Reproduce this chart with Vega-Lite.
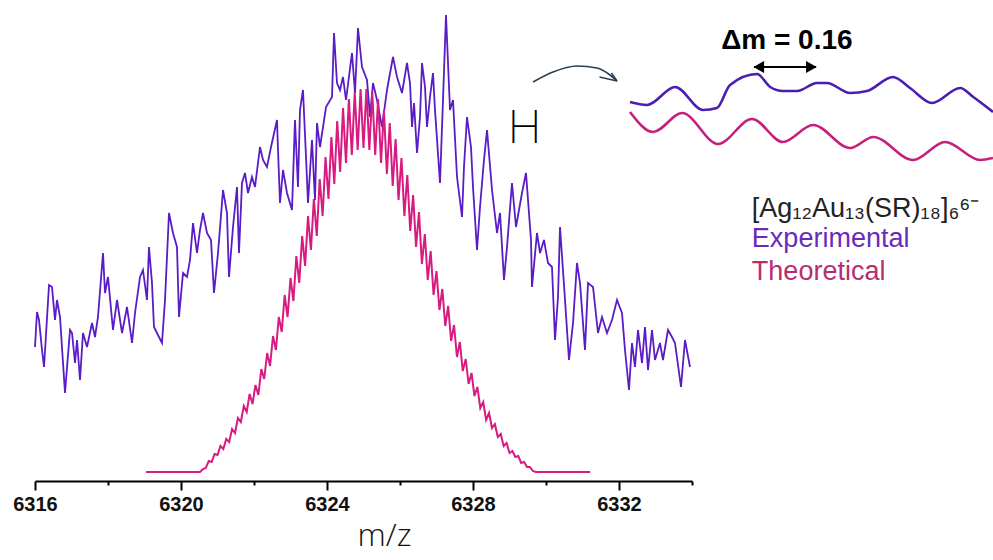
{
  "$schema": "https://vega.github.io/schema/vega-lite/v6.json",
  "width": 657,
  "height": 466,
  "autosize": "none",
  "padding": {"left": 35, "top": 15, "right": 301, "bottom": 79},
  "background": "white",
  "config": {"view": {"stroke": null}, "font": "Liberation Sans"},
  "datasets": {
    "exp": [
      {"mz":6316.000,"i":134},{"mz":6316.055,"i":169},{"mz":6316.110,"i":161},{"mz":6316.192,"i":131},{"mz":6316.247,"i":114},
      {"mz":6316.384,"i":196},{"mz":6316.466,"i":194},{"mz":6316.548,"i":161},{"mz":6316.603,"i":181},{"mz":6316.685,"i":164},
      {"mz":6316.822,"i":88},{"mz":6316.959,"i":151},{"mz":6317.014,"i":148},{"mz":6317.096,"i":118},{"mz":6317.151,"i":141},
      {"mz":6317.233,"i":101},{"mz":6317.315,"i":148},{"mz":6317.425,"i":134},{"mz":6317.562,"i":158},{"mz":6317.644,"i":144},
      {"mz":6317.726,"i":164},{"mz":6317.863,"i":228},{"mz":6317.918,"i":188},{"mz":6318.000,"i":204},{"mz":6318.137,"i":151},
      {"mz":6318.247,"i":181},{"mz":6318.384,"i":148},{"mz":6318.521,"i":174},{"mz":6318.658,"i":138},{"mz":6318.740,"i":168},
      {"mz":6318.877,"i":204},{"mz":6318.959,"i":211},{"mz":6319.068,"i":181},{"mz":6319.123,"i":234},{"mz":6319.205,"i":198},
      {"mz":6319.260,"i":154},{"mz":6319.342,"i":148},{"mz":6319.479,"i":138},{"mz":6319.562,"i":181},{"mz":6319.671,"i":268},
      {"mz":6319.781,"i":248},{"mz":6319.890,"i":234},{"mz":6319.945,"i":164},{"mz":6320.055,"i":208},{"mz":6320.164,"i":204},
      {"mz":6320.247,"i":221},{"mz":6320.329,"i":258},{"mz":6320.438,"i":228},{"mz":6320.521,"i":251},{"mz":6320.603,"i":268},
      {"mz":6320.712,"i":248},{"mz":6320.822,"i":241},{"mz":6320.904,"i":188},{"mz":6321.014,"i":228},{"mz":6321.151,"i":291},
      {"mz":6321.260,"i":268},{"mz":6321.315,"i":204},{"mz":6321.425,"i":254},{"mz":6321.534,"i":294},{"mz":6321.589,"i":228},
      {"mz":6321.671,"i":298},{"mz":6321.753,"i":308},{"mz":6321.836,"i":288},{"mz":6321.945,"i":304},{"mz":6322.027,"i":294},
      {"mz":6322.164,"i":334},{"mz":6322.247,"i":321},{"mz":6322.356,"i":314},{"mz":6322.466,"i":334},{"mz":6322.630,"i":361},
      {"mz":6322.658,"i":331},{"mz":6322.712,"i":278},{"mz":6322.795,"i":311},{"mz":6322.904,"i":288},{"mz":6323.041,"i":271},
      {"mz":6323.123,"i":361},{"mz":6323.205,"i":294},{"mz":6323.260,"i":371},{"mz":6323.342,"i":391},{"mz":6323.425,"i":324},
      {"mz":6323.479,"i":278},{"mz":6323.589,"i":341},{"mz":6323.671,"i":281},{"mz":6323.726,"i":358},{"mz":6323.808,"i":334},
      {"mz":6323.973,"i":374},{"mz":6324.137,"i":384},{"mz":6324.192,"i":448},{"mz":6324.274,"i":398},{"mz":6324.356,"i":391},
      {"mz":6324.438,"i":404},{"mz":6324.521,"i":381},{"mz":6324.685,"i":428},{"mz":6324.767,"i":388},{"mz":6324.849,"i":453},
      {"mz":6324.959,"i":414},{"mz":6325.096,"i":401},{"mz":6325.178,"i":364},{"mz":6325.260,"i":398},{"mz":6325.370,"i":381},
      {"mz":6325.507,"i":354},{"mz":6325.644,"i":391},{"mz":6325.808,"i":424},{"mz":6325.918,"i":404},{"mz":6326.055,"i":388},
      {"mz":6326.192,"i":418},{"mz":6326.274,"i":398},{"mz":6326.329,"i":354},{"mz":6326.384,"i":378},{"mz":6326.466,"i":328},
      {"mz":6326.548,"i":364},{"mz":6326.603,"i":418},{"mz":6326.685,"i":394},{"mz":6326.740,"i":354},{"mz":6326.822,"i":384},
      {"mz":6326.904,"i":408},{"mz":6326.959,"i":371},{"mz":6327.096,"i":298},{"mz":6327.178,"i":381},{"mz":6327.260,"i":466},
      {"mz":6327.370,"i":371},{"mz":6327.452,"i":381},{"mz":6327.562,"i":304},{"mz":6327.699,"i":264},{"mz":6327.753,"i":314},
      {"mz":6327.836,"i":364},{"mz":6327.945,"i":334},{"mz":6328.000,"i":294},{"mz":6328.110,"i":231},{"mz":6328.192,"i":274},
      {"mz":6328.301,"i":321},{"mz":6328.384,"i":351},{"mz":6328.521,"i":291},{"mz":6328.658,"i":248},{"mz":6328.740,"i":268},
      {"mz":6328.849,"i":201},{"mz":6328.932,"i":234},{"mz":6329.068,"i":298},{"mz":6329.178,"i":254},{"mz":6329.342,"i":288},
      {"mz":6329.452,"i":308},{"mz":6329.589,"i":241},{"mz":6329.616,"i":194},{"mz":6329.753,"i":248},{"mz":6329.836,"i":228},
      {"mz":6329.945,"i":241},{"mz":6330.055,"i":218},{"mz":6330.164,"i":214},{"mz":6330.247,"i":141},{"mz":6330.329,"i":184},
      {"mz":6330.384,"i":254},{"mz":6330.521,"i":181},{"mz":6330.630,"i":121},{"mz":6330.740,"i":158},{"mz":6330.849,"i":218},
      {"mz":6330.932,"i":198},{"mz":6331.068,"i":131},{"mz":6331.151,"i":198},{"mz":6331.288,"i":194},{"mz":6331.425,"i":148},
      {"mz":6331.534,"i":164},{"mz":6331.671,"i":148},{"mz":6331.808,"i":161},{"mz":6331.945,"i":181},{"mz":6332.082,"i":168},
      {"mz":6332.164,"i":131},{"mz":6332.274,"i":91},{"mz":6332.356,"i":138},{"mz":6332.438,"i":114},{"mz":6332.521,"i":151},
      {"mz":6332.630,"i":118},{"mz":6332.712,"i":154},{"mz":6332.795,"i":111},{"mz":6332.904,"i":151},{"mz":6332.986,"i":121},
      {"mz":6333.123,"i":138},{"mz":6333.205,"i":121},{"mz":6333.342,"i":151},{"mz":6333.452,"i":144},{"mz":6333.534,"i":138},
      {"mz":6333.699,"i":94},{"mz":6333.808,"i":141},{"mz":6333.945,"i":114}
    ],
    "theo": [
      {"mz":6319.04,"i":9},{"mz":6320.52,"i":9},{"mz":6320.60,"i":12},{"mz":6320.68,"i":13},{"mz":6320.76,"i":20},{"mz":6320.84,"i":19},
      {"mz":6320.92,"i":27},{"mz":6321.00,"i":26},{"mz":6321.08,"i":35},{"mz":6321.16,"i":32},{"mz":6321.24,"i":42},{"mz":6321.32,"i":39},
      {"mz":6321.40,"i":52},{"mz":6321.48,"i":48},{"mz":6321.56,"i":63},{"mz":6321.64,"i":59},{"mz":6321.72,"i":75},{"mz":6321.80,"i":69},
      {"mz":6321.88,"i":87},{"mz":6321.96,"i":77},{"mz":6322.04,"i":96},{"mz":6322.12,"i":86},{"mz":6322.20,"i":112},{"mz":6322.28,"i":102},
      {"mz":6322.36,"i":128},{"mz":6322.44,"i":115},{"mz":6322.52,"i":145},{"mz":6322.60,"i":131},{"mz":6322.68,"i":164},{"mz":6322.76,"i":149},
      {"mz":6322.84,"i":186},{"mz":6322.92,"i":164},{"mz":6323.00,"i":203},{"mz":6323.08,"i":180},{"mz":6323.16,"i":225},{"mz":6323.24,"i":198},
      {"mz":6323.32,"i":245},{"mz":6323.40,"i":215},{"mz":6323.48,"i":265},{"mz":6323.56,"i":231},{"mz":6323.64,"i":282},{"mz":6323.72,"i":245},
      {"mz":6323.80,"i":302},{"mz":6323.88,"i":265},{"mz":6323.96,"i":324},{"mz":6324.04,"i":282},{"mz":6324.12,"i":344},{"mz":6324.20,"i":297},
      {"mz":6324.28,"i":360},{"mz":6324.36,"i":309},{"mz":6324.44,"i":373},{"mz":6324.52,"i":318},{"mz":6324.60,"i":382},{"mz":6324.68,"i":326},
      {"mz":6324.76,"i":389},{"mz":6324.84,"i":331},{"mz":6324.92,"i":392},{"mz":6325.00,"i":333},{"mz":6325.08,"i":392},{"mz":6325.16,"i":331},
      {"mz":6325.24,"i":389},{"mz":6325.32,"i":326},{"mz":6325.40,"i":382},{"mz":6325.48,"i":318},{"mz":6325.56,"i":371},{"mz":6325.64,"i":307},
      {"mz":6325.72,"i":358},{"mz":6325.80,"i":295},{"mz":6325.88,"i":342},{"mz":6325.96,"i":281},{"mz":6326.04,"i":323},{"mz":6326.12,"i":265},
      {"mz":6326.20,"i":306},{"mz":6326.28,"i":250},{"mz":6326.36,"i":286},{"mz":6326.44,"i":234},{"mz":6326.52,"i":269},{"mz":6326.60,"i":217},
      {"mz":6326.68,"i":247},{"mz":6326.76,"i":201},{"mz":6326.84,"i":230},{"mz":6326.92,"i":186},{"mz":6327.00,"i":210},{"mz":6327.08,"i":171},
      {"mz":6327.16,"i":192},{"mz":6327.24,"i":155},{"mz":6327.32,"i":175},{"mz":6327.40,"i":140},{"mz":6327.48,"i":156},{"mz":6327.56,"i":124},
      {"mz":6327.64,"i":139},{"mz":6327.72,"i":110},{"mz":6327.80,"i":122},{"mz":6327.88,"i":97},{"mz":6327.96,"i":108},{"mz":6328.04,"i":85},
      {"mz":6328.12,"i":94},{"mz":6328.20,"i":73},{"mz":6328.28,"i":79},{"mz":6328.36,"i":61},{"mz":6328.44,"i":68},{"mz":6328.52,"i":53},
      {"mz":6328.60,"i":57},{"mz":6328.68,"i":44},{"mz":6328.76,"i":47},{"mz":6328.84,"i":35},{"mz":6328.92,"i":38},{"mz":6329.00,"i":28},
      {"mz":6329.08,"i":30},{"mz":6329.16,"i":24},{"mz":6329.24,"i":25},{"mz":6329.32,"i":18},{"mz":6329.40,"i":19},{"mz":6329.48,"i":14},
      {"mz":6329.56,"i":14},{"mz":6329.64,"i":10},{"mz":6329.72,"i":9},{"mz":6331.21,"i":9}
    ],
    "inset": [
      {"series":"Experimental","t":6324.600,"i":379},{"series":"Experimental","t":6324.644,"i":376},{"series":"Experimental","t":6324.717,"i":394},
      {"series":"Experimental","t":6324.789,"i":371},{"series":"Experimental","t":6324.825,"i":373},{"series":"Experimental","t":6324.859,"i":396},
      {"series":"Experimental","t":6324.929,"i":407},{"series":"Experimental","t":6324.963,"i":394},{"series":"Experimental","t":6324.996,"i":390},
      {"series":"Experimental","t":6325.033,"i":390},{"series":"Experimental","t":6325.084,"i":398},{"series":"Experimental","t":6325.110,"i":398},
      {"series":"Experimental","t":6325.170,"i":388},{"series":"Experimental","t":6325.214,"i":390},{"series":"Experimental","t":6325.281,"i":404},
      {"series":"Experimental","t":6325.325,"i":393},{"series":"Experimental","t":6325.382,"i":378},{"series":"Experimental","t":6325.455,"i":393},
      {"series":"Experimental","t":6325.489,"i":384},{"series":"Experimental","t":6325.540,"i":369},
      {"series":"Theoretical","t":6324.600,"i":369},{"series":"Theoretical","t":6324.660,"i":349},{"series":"Theoretical","t":6324.735,"i":368},
      {"series":"Theoretical","t":6324.828,"i":337},{"series":"Theoretical","t":6324.916,"i":362},{"series":"Theoretical","t":6324.996,"i":339},
      {"series":"Theoretical","t":6325.074,"i":356},{"series":"Theoretical","t":6325.170,"i":333},{"series":"Theoretical","t":6325.230,"i":344},
      {"series":"Theoretical","t":6325.333,"i":321},{"series":"Theoretical","t":6325.416,"i":339},{"series":"Theoretical","t":6325.507,"i":321},
      {"series":"Theoretical","t":6325.540,"i":323}
    ]
  },
  "layer": [
    {
      "encoding": {
        "x": {
          "field": "mz", "type": "quantitative",
          "scale": {"domain": [6316, 6334], "nice": false, "zero": false},
          "axis": {
            "values": [6316, 6318, 6320, 6322, 6324, 6326, 6328, 6330, 6332, 6334],
            "format": "d",
            "labelExpr": "datum.value % 4 === 0 ? datum.label : ''",
            "title": "m/z", "grid": false,
            "domainColor": "#000", "domainWidth": 2,
            "tickColor": "#000", "tickWidth": 2,
            "tickSize": {"condition": {"test": "datum.value % 4 === 0", "value": 9}, "value": 4},
            "labelFont": "Liberation Sans", "labelFontWeight": "bold", "labelFontSize": 20, "labelColor": "#111",
            "labelPadding": 4, "labelFlush": false, "labelOverlap": false,
            "titleFont": "Open Sans", "titleFontWeight": 300, "titleFontSize": 32, "titleColor": "#111", "titlePadding": 6, "titleX": 349
          }
        },
        "y": {"field": "i", "type": "quantitative", "scale": {"domain": [0, 466], "nice": false}, "axis": null}
      },
      "layer": [
        {"data": {"name": "exp"}, "mark": {"type": "line", "color": "#5a1cc4", "strokeWidth": 1.8}},
        {"data": {"name": "theo"}, "mark": {"type": "line", "color": "#d81b80", "strokeWidth": 2}},
        {
          "data": {"values": [
            {"mz": 6329.644, "i": 399}, {"mz": 6330.192, "i": 409}, {"mz": 6330.849, "i": 415},
            {"mz": 6331.397, "i": 413}, {"mz": 6331.753, "i": 406}, {"mz": 6331.945, "i": 400}
          ]},
          "mark": {"type": "line", "interpolate": "monotone", "color": "#2c3e50", "strokeWidth": 1.6}
        },
        {
          "data": {"values": [
            {"mz": 6331.792, "i": 408, "mz2": 6331.945, "i2": 400},
            {"mz": 6331.466, "i": 404, "mz2": 6331.945, "i2": 400}
          ]},
          "mark": {"type": "rule", "color": "#2c3e50", "strokeWidth": 1.6},
          "encoding": {"x2": {"field": "mz2"}, "y2": {"field": "i2"}}
        },
        {
          "data": {"values": [{"mz": 6335.70, "mz2": 6337.40, "i": 414}]},
          "mark": {"type": "rule", "color": "#000", "strokeWidth": 2},
          "encoding": {"x2": {"field": "mz2"}}
        },
        {
          "data": {"values": [{"mz": 6335.83, "i": 414}]},
          "mark": {"type": "point", "shape": "triangle-left", "filled": true, "size": 150, "color": "#000", "opacity": 1}
        },
        {
          "data": {"values": [{"mz": 6337.27, "i": 414}]},
          "mark": {"type": "point", "shape": "triangle-right", "filled": true, "size": 150, "color": "#000", "opacity": 1}
        },
        {
          "data": {"values": [{"mz": 6329.41, "i": 338, "label": "H"}]},
          "mark": {"type": "text", "font": "Roboto", "fontWeight": 200, "fontSize": 47, "align": "center", "baseline": "alphabetic", "color": "#000"},
          "encoding": {"text": {"field": "label"}}
        },
        {
          "data": {"values": [{"mz": 6336.60, "i": 432, "label": "Δm = 0.16"}]},
          "mark": {"type": "text", "font": "Liberation Sans", "fontWeight": "bold", "fontSize": 28, "align": "center", "baseline": "alphabetic", "color": "#000"},
          "encoding": {"text": {"field": "label"}}
        },
        {
          "data": {"values": [{"mz": 6335.64, "i": 264, "label": "[Ag₁₂Au₁₃(SR)₁₈]₆⁶⁻"}]},
          "mark": {"type": "text", "font": "Liberation Sans", "fontSize": 27, "align": "left", "baseline": "alphabetic", "color": "#222"},
          "encoding": {"text": {"field": "label"}}
        },
        {
          "data": {"values": [{"mz": 6335.64, "i": 234, "label": "Experimental"}]},
          "mark": {"type": "text", "font": "Liberation Sans", "fontSize": 27, "align": "left", "baseline": "alphabetic", "color": "#6a2bb8"},
          "encoding": {"text": {"field": "label"}}
        },
        {
          "data": {"values": [{"mz": 6335.64, "i": 201, "label": "Theoretical"}]},
          "mark": {"type": "text", "font": "Liberation Sans", "fontSize": 27, "align": "left", "baseline": "alphabetic", "color": "#b82d72"},
          "encoding": {"text": {"field": "label"}}
        }
      ]
    },
    {
      "data": {"name": "inset"},
      "mark": {"type": "line", "interpolate": "monotone", "strokeWidth": 2.6},
      "encoding": {
        "x": {"field": "t", "type": "quantitative", "scale": {"domain": [6324.6, 6325.54], "range": [595, 958], "nice": false, "zero": false}, "axis": null},
        "y": {"field": "i", "type": "quantitative", "scale": {"domain": [0, 466], "nice": false}, "axis": null},
        "color": {"field": "series", "type": "nominal", "scale": {"domain": ["Experimental", "Theoretical"], "range": ["#4b1db3", "#c4207c"]}, "legend": null}
      }
    }
  ],
  "resolve": {"scale": {"x": "independent"}}
}
